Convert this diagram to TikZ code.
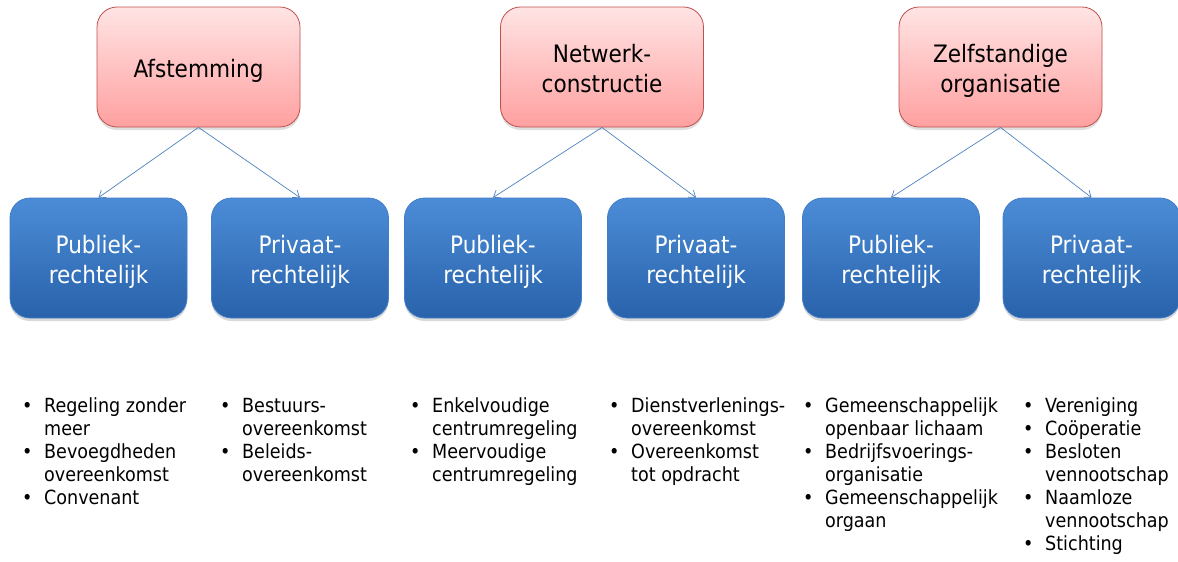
\documentclass[tikz,border=0pt]{standalone}
\usepackage{fontspec}
\setmainfont{DejaVu Sans Condensed}
\usetikzlibrary{arrows.meta,shadows}
\definecolor{pinktop}{RGB}{255,228,228}
\definecolor{pinkbot}{RGB}{255,160,160}
\definecolor{pinkline}{RGB}{192,80,77}
\definecolor{bluetop}{RGB}{76,140,215}
\definecolor{bluebot}{RGB}{40,98,170}
\definecolor{blueline}{RGB}{65,125,200}
\definecolor{arrowblue}{RGB}{79,129,189}
\newcommand{\bu}{\textbullet}
\newcommand{\bt}[1]{\raisebox{-4pt}[\height][\depth]{\begin{tabular}{@{}c@{}}#1\end{tabular}}}
\newenvironment{blist}{\fontsize{19.5}{23}\selectfont\begin{tabular}{@{}p{22pt}@{}l@{}}}{\end{tabular}}
\begin{document}
\begin{tikzpicture}[x=1pt,y=-1pt,
  topbox/.style={draw=pinkline, line width=0.8pt, rounded corners=20pt,
    top color=pinktop, bottom color=pinkbot, minimum width=203pt, minimum height=120pt,
    inner sep=0pt, font=\fontsize{24}{30}\selectfont, text=black,
    drop shadow={opacity=0.25, shadow xshift=0pt, shadow yshift=-3pt}},
  subbox/.style={draw=blueline, line width=0.8pt, rounded corners=20pt,
    top color=bluetop, bottom color=bluebot, minimum width=177pt, minimum height=120pt,
    inner sep=0pt, font=\fontsize{24}{30}\selectfont, text=white,
    drop shadow={opacity=0.3, shadow xshift=0pt, shadow yshift=-3pt}},
  conn/.style={draw=arrowblue, line width=0.7pt, -{Straight Barb[length=6pt,width=9pt]}},
  lst/.style={anchor=north west, inner sep=0pt, text=black}
]
\useasboundingbox (0,0) rectangle (1178,562);

\node[topbox] (t1) at (198.5,67) {\bt{Afstemming}};
\node[topbox] (t2) at (602,67) {\bt{Netwerk-\\constructie}};
\node[topbox] (t3) at (1000.5,67) {\bt{Zelfstandige\\organisatie}};

\node[subbox] (s1) at (98.5,258) {\bt{Publiek-\\rechtelijk}};
\node[subbox] (s2) at (300,258) {\bt{Privaat-\\rechtelijk}};
\node[subbox] (s3) at (493,258) {\bt{Publiek-\\rechtelijk}};
\node[subbox] (s4) at (696,258) {\bt{Privaat-\\rechtelijk}};
\node[subbox] (s5) at (891,258) {\bt{Publiek-\\rechtelijk}};
\node[subbox] (s6) at (1091.5,258) {\bt{Privaat-\\rechtelijk}};

\draw[conn] (t1.south) -- (s1.north);
\draw[conn] (t1.south) -- (s2.north);
\draw[conn] (t2.south) -- (s3.north);
\draw[conn] (t2.south) -- (s4.north);
\draw[conn] (t3.south) -- (s5.north);
\draw[conn] (t3.south) -- (s6.north);

\node[lst] (l1) at (22,396) {\begin{blist}\bu & Regeling zonder\\ & meer\\ \bu & Bevoegdheden\\ & overeenkomst\\ \bu & Convenant\end{blist}};
\node[lst] (l2) at (220,396) {\begin{blist}\bu & Bestuurs-\\ & overeenkomst\\ \bu & Beleids-\\ & overeenkomst\end{blist}};
\node[lst] (l3) at (410,396) {\begin{blist}\bu & Enkelvoudige\\ & centrumregeling\\ \bu & Meervoudige\\ & centrumregeling\end{blist}};
\node[lst] (l4) at (609,396) {\begin{blist}\bu & Dienstverlenings-\\ & overeenkomst\\ \bu & Overeenkomst\\ & tot opdracht\end{blist}};
\node[lst] (l5) at (803,396) {\begin{blist}\bu & Gemeenschappelijk\\ & openbaar lichaam\\ \bu & Bedrijfsvoerings-\\ & organisatie\\ \bu & Gemeenschappelijk\\ & orgaan\end{blist}};
\node[lst] (l6) at (1023,396) {\begin{blist}\bu & Vereniging\\ \bu & Coöperatie\\ \bu & Besloten\\ & vennootschap\\ \bu & Naamloze\\ & vennootschap\\ \bu & Stichting\end{blist}};
\end{tikzpicture}
\end{document}
